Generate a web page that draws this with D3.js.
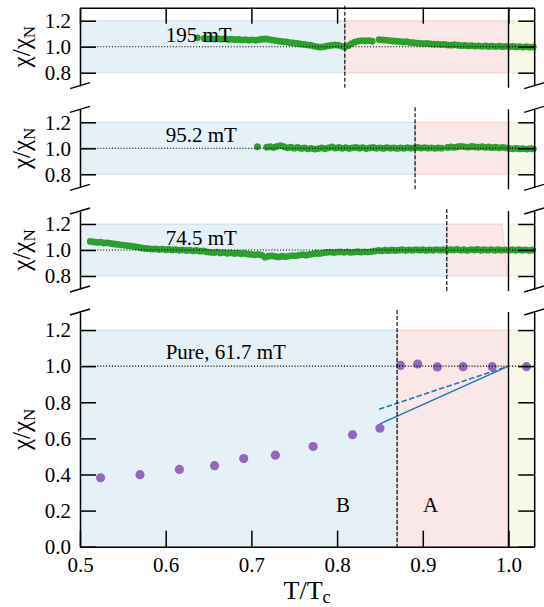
<!DOCTYPE html>
<html>
<head>
<meta charset="utf-8">
<script src="https://cdn.jsdelivr.net/npm/d3@7"></script>
<style>
  html, body { margin: 0; padding: 0; background: #fff; }
  svg { display: block; }
  svg text { font-family: "Liberation Serif", "Times New Roman", "DejaVu Serif", serif; }
</style>
</head>
<body>
<svg id="chart" width="544" height="607"></svg>
<script>
// ---------------- DATA ----------------
const xTicks = [0.5, 0.6, 0.7, 0.8, 0.9, 1.0];
const yTicksTop = [0.8, 1.0, 1.2];
const yTicksBottom = [0.0, 0.2, 0.4, 0.6, 0.8, 1.0, 1.2];
const panelLabels = ["195 mT", "95.2 mT", "74.5 mT", "Pure, 61.7 mT"];
const transitionT = [0.809, 0.891, 0.928, 0.870];
const regionLabels = ["B", "A"];
const regionLabelT = [0.807, 0.909];
const regionLabelChi = [0.19, 0.19];

// 195 mT
const t195 = [0.637,0.645,0.649,0.653,0.657,0.661,0.665,0.669,0.673,0.677,0.681,0.685,0.689,0.693,0.697,0.701,0.705,0.709,0.713,0.717,0.721,0.725,0.729,0.733,0.737,0.741,0.745,0.749,0.753,0.757,0.761,0.765,0.769,0.773,0.777,0.781,0.785,0.789,0.793,0.797,0.801,0.805,0.809,0.813,0.817,0.821,0.825,0.829,0.833,0.837,0.841,0.849,0.853,0.857,0.861,0.865,0.869,0.873,0.877,0.881,0.885,0.889,0.893,0.897,0.901,0.905,0.909,0.913,0.917,0.921,0.925,0.929,0.933,0.937,0.941,0.945,0.949,0.953,0.957,0.961,0.965,0.969,0.973,0.977,0.981,0.985,0.989,0.993,0.997,1.001,1.005,1.009,1.013,1.017,1.021,1.025,1.029];
const chi195 = [1.068,1.063,1.060,1.064,1.059,1.062,1.058,1.061,1.056,1.058,1.054,1.056,1.052,1.055,1.050,1.053,1.049,1.054,1.058,1.060,1.055,1.050,1.046,1.042,1.038,1.036,1.031,1.029,1.025,1.021,1.018,1.014,1.011,1.005,0.999,0.996,1.000,1.006,1.010,1.014,1.012,1.005,0.996,1.008,1.024,1.036,1.043,1.047,1.044,1.046,1.042,1.055,1.052,1.050,1.047,1.044,1.042,1.040,1.036,1.038,1.033,1.031,1.028,1.026,1.024,1.025,1.021,1.019,1.020,1.016,1.018,1.014,1.012,1.015,1.011,1.008,1.010,1.006,1.008,1.004,1.007,1.003,1.006,1.002,1.005,1.001,1.004,1.000,1.003,0.999,1.002,0.998,1.001,0.997,1.000,0.996,0.999];

// 95.2 mT
const t952 = [0.707,0.718,0.722,0.726,0.730,0.734,0.738,0.742,0.746,0.750,0.754,0.758,0.762,0.766,0.770,0.774,0.778,0.782,0.786,0.790,0.794,0.798,0.802,0.806,0.810,0.814,0.818,0.822,0.826,0.830,0.834,0.838,0.842,0.846,0.850,0.854,0.858,0.862,0.866,0.870,0.874,0.878,0.882,0.886,0.890,0.894,0.898,0.902,0.906,0.910,0.914,0.918,0.922,0.929,0.933,0.937,0.941,0.945,0.949,0.953,0.957,0.961,0.965,0.969,0.973,0.977,0.981,0.985,0.989,0.993,0.997,1.001,1.005,1.009,1.013,1.017,1.021,1.025,1.029];
const chi952 = [1.012,1.008,1.012,1.006,1.015,1.020,1.012,1.004,1.008,1.001,1.006,0.999,1.003,0.996,1.000,0.994,0.998,1.003,0.997,1.004,1.010,1.002,1.006,1.000,1.005,0.999,1.004,1.007,1.001,1.005,0.998,1.003,1.006,1.000,1.004,0.999,1.005,1.001,1.004,0.999,1.003,1.000,1.005,1.001,1.004,1.006,1.002,1.005,1.001,1.004,1.000,1.003,1.001,1.006,1.010,1.007,1.012,1.015,1.011,1.009,1.014,1.010,1.008,1.012,1.007,1.010,1.005,1.008,1.004,1.007,1.003,0.999,0.996,1.000,0.995,0.998,0.994,0.997,0.995];

// 74.5 mT
const t745 = [0.512,0.516,0.520,0.524,0.528,0.532,0.536,0.540,0.544,0.548,0.552,0.556,0.560,0.564,0.568,0.572,0.576,0.580,0.584,0.588,0.592,0.596,0.600,0.604,0.608,0.612,0.616,0.620,0.624,0.628,0.632,0.636,0.640,0.644,0.648,0.652,0.656,0.660,0.664,0.668,0.672,0.676,0.680,0.684,0.688,0.692,0.696,0.700,0.704,0.708,0.712,0.716,0.720,0.724,0.728,0.732,0.736,0.740,0.744,0.748,0.752,0.756,0.760,0.764,0.768,0.772,0.776,0.780,0.784,0.788,0.792,0.796,0.800,0.804,0.808,0.812,0.816,0.820,0.824,0.828,0.832,0.836,0.840,0.844,0.848,0.852,0.856,0.860,0.864,0.868,0.872,0.876,0.880,0.884,0.888,0.892,0.896,0.900,0.904,0.908,0.912,0.916,0.920,0.924,0.928,0.932,0.936,0.940,0.944,0.948,0.952,0.956,0.960,0.964,0.968,0.972,0.976,0.980,0.984,0.988,0.992,0.996,1.000,1.004,1.008,1.012,1.016,1.020,1.024,1.028];
const chi745 = [1.066,1.062,1.058,1.060,1.054,1.055,1.050,1.046,1.043,1.040,1.036,1.033,1.030,1.026,1.022,1.016,1.012,1.010,1.006,1.009,1.004,1.007,1.002,1.005,1.000,1.003,0.998,1.001,0.996,0.999,0.994,0.997,0.991,0.993,0.986,0.982,0.979,0.983,0.977,0.980,0.975,0.978,0.973,0.976,0.971,0.974,0.968,0.966,0.963,0.967,0.960,0.945,0.952,0.955,0.950,0.947,0.952,0.949,0.953,0.957,0.955,0.961,0.964,0.960,0.966,0.970,0.975,0.972,0.978,0.981,0.984,0.980,0.983,0.986,0.982,0.985,0.981,0.984,0.987,0.983,0.986,0.984,0.988,0.992,0.997,0.994,0.998,0.995,1.000,0.996,0.999,1.002,0.997,1.001,0.998,1.003,0.999,1.002,0.997,1.001,0.998,1.003,0.999,1.002,0.998,1.002,1.000,1.004,0.999,1.002,0.997,1.003,1.000,1.004,0.998,1.002,0.999,1.003,0.998,1.002,0.999,1.001,0.998,1.002,0.999,1.003,0.998,1.001,0.997,1.000];

// Pure, 61.7 mT
const tPure = [0.524,0.570,0.616,0.657,0.691,0.728,0.772,0.818,0.850,0.874,0.894,0.917,0.947,0.981,1.021];
const chiPure = [0.382,0.399,0.428,0.449,0.488,0.507,0.555,0.620,0.656,1.004,1.012,0.996,0.997,0.997,0.997];

// blue guide lines in the pure panel
const solidLineT = [0.850, 1.000];
const solidLineChi = [0.680, 1.000];
const dashedLineT = [0.849, 1.000];
const dashedLineChi = [0.761, 1.000];

// ---------------- LAYOUT ----------------
const W = 544, H = 607;
const FONT = "'Liberation Serif', 'Times New Roman', serif";
const cBlue = "#1f77b4", cRed = "#d62728", cOlive = "#bcbd22";
const cGreen = "#2ca02c", cPurple = "#9467bd";

const x = d3.scaleLinear().domain([0.5, 1.03]).range([80, 534.2]);

const panels = [
  { domain: [0.7, 1.3], range: [85.7, 7.7], ticks: yTicksTop, shade: [0.8, 1.2], label: panelLabels[0], labelChi: 1.04, tc: transitionT[0], T: t195, chi: chi195, topSpine: true, bottomAxis: false },
  { domain: [0.7, 1.3], range: [187.3, 109.3], ticks: yTicksTop, shade: [0.8, 1.2], label: panelLabels[1], labelChi: 1.05, tc: transitionT[1], T: t952, chi: chi952, topSpine: false, bottomAxis: false },
  { domain: [0.7, 1.3], range: [289, 211], ticks: yTicksTop, shade: [0.8, 1.2], label: panelLabels[2], labelChi: 1.04, tc: transitionT[2], T: t745, chi: chi745, topSpine: false, bottomAxis: false, slantRed: true },
  { domain: [0.0, 1.3], range: [546.7, 312], ticks: yTicksBottom, shade: [0.0, 1.2], label: panelLabels[3], labelChi: 1.04, tc: transitionT[3], T: tPure, chi: chiPure, topSpine: false, bottomAxis: true, pure: true }
];

const svg = d3.select("#chart");
svg.append("rect").attr("width", W).attr("height", H).attr("fill", "#fff");

panels.forEach((p, i) => {
  const y = d3.scaleLinear().domain(p.domain).range(p.range);
  const g = svg.append("g");
  const [s0, s1] = p.shade;

  // shaded regions
  const shadeRect = (xa, xb, col) => {
    g.append("rect")
      .attr("x", x(xa)).attr("y", y(s1))
      .attr("width", x(xb) - x(xa)).attr("height", y(s0) - y(s1))
      .attr("fill", col).attr("fill-opacity", 0.11)
      .attr("stroke", col).attr("stroke-opacity", 0.12).attr("stroke-width", 1.6);
  };
  shadeRect(0.5, p.tc, cBlue);
  if (p.slantRed) {
    const pts = [[p.tc, s0], [p.tc, s1], [0.9925, s1], [0.999, s0]];
    g.append("polygon")
      .attr("points", pts.map(d => [x(d[0]), y(d[1])].join(",")).join(" "))
      .attr("fill", cRed).attr("fill-opacity", 0.11)
      .attr("stroke", cRed).attr("stroke-opacity", 0.12).attr("stroke-width", 1.6);
  } else {
    shadeRect(p.tc, 1.0, cRed);
  }
  shadeRect(1.0, 1.03, cOlive);

  if (p.pure) {
    const ln = d3.line().x(d => x(d[0])).y(d => y(d[1]));
    g.append("path").datum(solidLineT.map((t, k) => [t, solidLineChi[k]]))
      .attr("d", ln).attr("fill", "none").attr("stroke", cBlue).attr("stroke-width", 1.5);
    g.append("path").datum(dashedLineT.map((t, k) => [t, dashedLineChi[k]]))
      .attr("d", ln).attr("fill", "none").attr("stroke", cBlue).attr("stroke-width", 1.5)
      .attr("stroke-dasharray", "5.5,2.4");
    g.selectAll("circle.pt").data(p.T).enter().append("circle")
      .attr("cx", (d) => x(d)).attr("cy", (d, k) => y(p.chi[k]))
      .attr("r", 4.6).attr("fill", cPurple);
  } else {
    g.selectAll("circle.pt").data(p.T).enter().append("circle")
      .attr("cx", (d) => x(d)).attr("cy", (d, k) => y(p.chi[k]))
      .attr("r", 3.4).attr("fill", cGreen);
  }

  // dotted line at 1.0
  g.append("line")
    .attr("x1", x(0.5)).attr("x2", x(1.03))
    .attr("y1", y(1.0)).attr("y2", y(1.0))
    .attr("stroke", "#000").attr("stroke-width", 1.1).attr("stroke-dasharray", "1.1,1.8");

  // vertical lines
  g.append("line")
    .attr("x1", x(p.tc)).attr("x2", x(p.tc))
    .attr("y1", p.range[1] - 2).attr("y2", p.range[0] + (p.bottomAxis ? 0 : 2))
    .attr("stroke", "#000").attr("stroke-width", 1.1).attr("stroke-dasharray", "4,2");
  g.append("line")
    .attr("x1", x(1.0)).attr("x2", x(1.0))
    .attr("y1", p.range[1]).attr("y2", p.range[0] + (p.bottomAxis ? 0 : 2))
    .attr("stroke", "#000").attr("stroke-width", 1.4);

  // axes
  const styleAxis = (sel) => {
    sel.attr("font-family", FONT).attr("font-size", 21);
    sel.selectAll("path.domain").attr("stroke", "#000").attr("stroke-width", 1.5);
    sel.selectAll(".tick line").attr("stroke", "#000").attr("stroke-width", 1.5);
    sel.selectAll(".tick text").attr("fill", "#000").style("font-family", FONT).style("font-size", "21px");
  };
  const yl = d3.axisLeft(y).tickValues(p.ticks).tickSizeInner(-16).tickSizeOuter(0)
    .tickPadding(9).tickFormat(d3.format(".1f"));
  g.append("g").attr("transform", `translate(${x(0.5)},0)`).call(yl).call(styleAxis);
  const yr = d3.axisRight(y).tickValues(p.ticks).tickSizeInner(-16).tickSizeOuter(0)
    .tickFormat("");
  g.append("g").attr("transform", `translate(${x(1.03)},0)`).call(yr).call(styleAxis);

  if (p.topSpine) {
    const xt = d3.axisTop(x).tickValues(xTicks).tickSizeInner(-16).tickSizeOuter(0).tickFormat("");
    g.append("g").attr("transform", `translate(0,${p.range[1]})`).call(xt).call(styleAxis);
  }
  if (p.bottomAxis) {
    const xb = d3.axisBottom(x).tickValues(xTicks).tickSizeInner(-16).tickSizeOuter(0)
      .tickPadding(10).tickFormat(d3.format(".1f"));
    g.append("g").attr("transform", `translate(0,${p.range[0]})`).call(xb).call(styleAxis);
  }

  // break marks
  const brk = (bx, by) => {
    g.append("line").attr("x1", bx - 10).attr("y1", by + 3).attr("x2", bx + 10).attr("y2", by - 3)
      .attr("stroke", "#000").attr("stroke-width", 1.4);
  };
  [x(0.5), x(1.03)].forEach(bx => {
    if (!p.topSpine) brk(bx, p.range[1]);
    if (!p.bottomAxis) brk(bx, p.range[0]);
  });

  // panel annotation
  g.append("text").attr("x", x(0.6)).attr("y", y(p.labelChi))
    .style("font-family", FONT).attr("font-size", 21).attr("fill", "#000")
    .text(p.label);

  if (p.pure) {
    regionLabels.forEach((lab, k) => {
      g.append("text").attr("x", x(regionLabelT[k])).attr("y", y(regionLabelChi[k]))
        .attr("text-anchor", "middle")
        .style("font-family", FONT).attr("font-size", 21).attr("fill", "#000")
        .text(lab);
    });
  }

  // y label
  const yc = (p.range[0] + p.range[1]) / 2;
  const t = g.append("text")
    .attr("transform", `translate(30,${yc}) rotate(-90)`)
    .attr("text-anchor", "middle")
    .style("font-family", FONT).attr("font-size", 25).attr("fill", "#000");
  t.append("tspan").text("χ/χ");
  t.append("tspan").attr("font-size", 17).attr("dy", 5).text("N");
});

// x label
const xl = svg.append("text")
  .attr("x", (x(0.5) + x(1.03)) / 2).attr("y", 599)
  .attr("text-anchor", "middle")
  .style("font-family", FONT).attr("font-size", 26).attr("fill", "#000");
xl.append("tspan").text("T/T");
xl.append("tspan").attr("font-size", 18).attr("dy", 4).text("c");
</script>
</body>
</html>
